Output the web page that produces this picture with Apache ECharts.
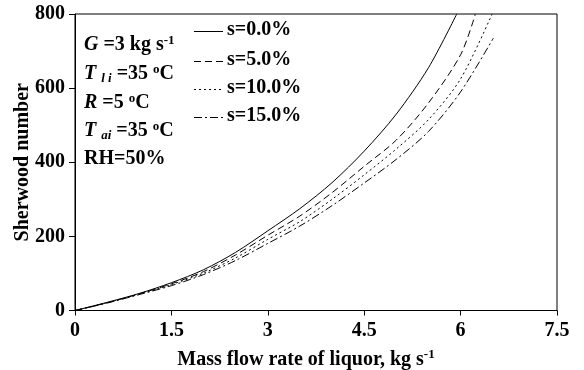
<!DOCTYPE html>
<html><head><meta charset="utf-8">
<script src="https://cdn.jsdelivr.net/npm/echarts@6/dist/echarts.min.js"></script>
<style>html,body{margin:0;padding:0;background:#fff}#c{width:584px;height:370px}</style>
</head><body><div id="c"></div>
<script>
const xTicks = [0, 1.5, 3, 4.5, 6, 7.5];
const yTicks = [0, 200, 400, 600, 800];
const seriesNames = ['s=0.0%', 's=5.0%', 's=10.0%', 's=15.0%'];
const xS0 = [0, 0.5, 1.0, 1.5, 2.0, 2.5, 3.0, 3.5, 4.0, 4.5, 5.0, 5.5, 5.94];
const yS0 = [0, 22, 46, 75, 110, 157, 215, 275, 345, 430, 530, 655, 800];
const xS5 = [0, 0.5, 1.0, 1.5, 2.0, 2.5, 3.0, 3.5, 4.0, 4.5, 5.0, 5.5, 6.0, 6.23];
const yS5 = [0, 21, 45, 72, 105, 150, 203, 255, 318, 389, 460, 560, 690, 800];
const xS10 = [0, 0.5, 1.0, 1.5, 2.0, 2.5, 3.0, 3.5, 4.0, 4.5, 5.0, 5.5, 6.0, 6.49];
const yS10 = [0, 21, 44, 70, 101, 142, 192, 240, 300, 366, 436, 515, 625, 800];
const xS15 = [0, 0.5, 1.0, 1.5, 2.0, 2.5, 3.0, 3.5, 4.0, 4.5, 5.0, 5.5, 6.0, 6.51];
const yS15 = [0, 20, 43, 67, 97, 135, 181, 228, 283, 344, 408, 483, 590, 735];
const lineTypes = ['solid', [7, 4], [2, 3], [8, 3, 2, 3]];

const F = '"Liberation Serif","Times New Roman",serif';
const pair = (xs, ys) => xs.map((x, i) => [x, ys[i]]);
const allData = [pair(xS0, yS0), pair(xS5, yS5), pair(xS10, yS10), pair(xS15, yS15)];

const chart = echarts.init(document.getElementById('c'));
const base = {fontFamily: F, fontWeight: 'bold', fontSize: 20, color: '#000'};
const rich = {
  i: {fontFamily: F, fontWeight: 'bold', fontStyle: 'italic', fontSize: 20, color: '#000'},
  n: {fontFamily: F, fontWeight: 'bold', fontSize: 20, color: '#000'},
  sup: {fontFamily: F, fontWeight: 'bold', fontSize: 13, color: '#000', verticalAlign: 'top', padding: [0, 0, 9, 0]},
  sub: {fontFamily: F, fontWeight: 'bold', fontStyle: 'italic', fontSize: 13, color: '#000', padding: [9, 0, 0, 0]}
};
const ann = [
  ['{i|G} {n|=3 kg s}{sup|-1}', 46],
  ['{i|T} {sub|l i} {n|=35 }{sup|o}{n|C}', 75],
  ['{i|R} {n|=5 }{sup|o}{n|C}', 104],
  ['{i|T} {sub|ai} {n|=35 }{sup|o}{n|C}', 132],
  ['{n|RH=50%}', 161]
];
const legendRows = [31, 61, 89, 117];
const graphics = ann.map(a => ({
  type: 'text', left: 84, top: a[1] - 12, z: 10,
  style: {text: a[0], rich: rich, font: 'bold 20px ' + F, fill: '#000'}
}));
seriesNames.forEach((n, i) => {
  const y = legendRows[i];
  graphics.push({
    type: 'line', z: 10,
    shape: {x1: 194, y1: y + 0.5, x2: 223, y2: y + 0.5},
    style: {stroke: '#000', lineWidth: 1, lineDash: lineTypes[i] === 'solid' ? null : lineTypes[i]}
  });
  graphics.push({
    type: 'text', z: 10, left: 227, top: y - 11,
    style: {text: n, font: 'bold 20px ' + F, fill: '#000'}
  });
});

chart.setOption({
  animation: false,
  grid: {left: 75, right: 27, top: 14, bottom: 59.5, show: true, borderColor: '#000', borderWidth: 1, containLabel: false, outerBoundsMode: 'none'},
  xAxis: {
    type: 'value', min: 0, max: 7.5, interval: 1.5,
    name: 'Mass flow rate of liquor, kg s{sup|-1}', nameLocation: 'middle', nameGap: 38,
    nameMoveOverlap: false,
    nameTextStyle: Object.assign({}, base, {padding: [0, 20, 0, 0], rich: {sup: {fontFamily: F, fontWeight: 'bold', fontSize: 13, color: '#000', padding: [0, 0, 9, 0]}}}),
    axisLine: {lineStyle: {color: '#000', width: 1}},
    axisTick: {inside: false, length: 5, lineStyle: {color: '#000'}},
    axisLabel: Object.assign({}, base, {margin: 10, formatter: v => xTicks.includes(v) ? String(v) : ''}),
    splitLine: {show: false}
  },
  yAxis: {
    type: 'value', min: 0, max: 800, interval: 200,
    name: 'Sherwood number', nameLocation: 'middle', nameGap: 42, nameRotate: 90,
    nameMoveOverlap: false,
    nameTextStyle: base,
    axisLine: {show: true, lineStyle: {color: '#000', width: 1}},
    axisTick: {show: true, inside: false, length: 6, lineStyle: {color: '#000'}},
    axisLabel: Object.assign({}, base, {margin: 10, formatter: v => yTicks.includes(v) ? String(v) : ''}),
    splitLine: {show: false}
  },
  graphic: graphics,
  series: allData.map((d, i) => ({
    name: seriesNames[i], type: 'line', data: d, smooth: 0.3, symbol: 'none',
    lineStyle: {color: '#000', width: 1, type: lineTypes[i]},
    itemStyle: {color: '#000'},
    clip: true
  }))
});
</script></body></html>
